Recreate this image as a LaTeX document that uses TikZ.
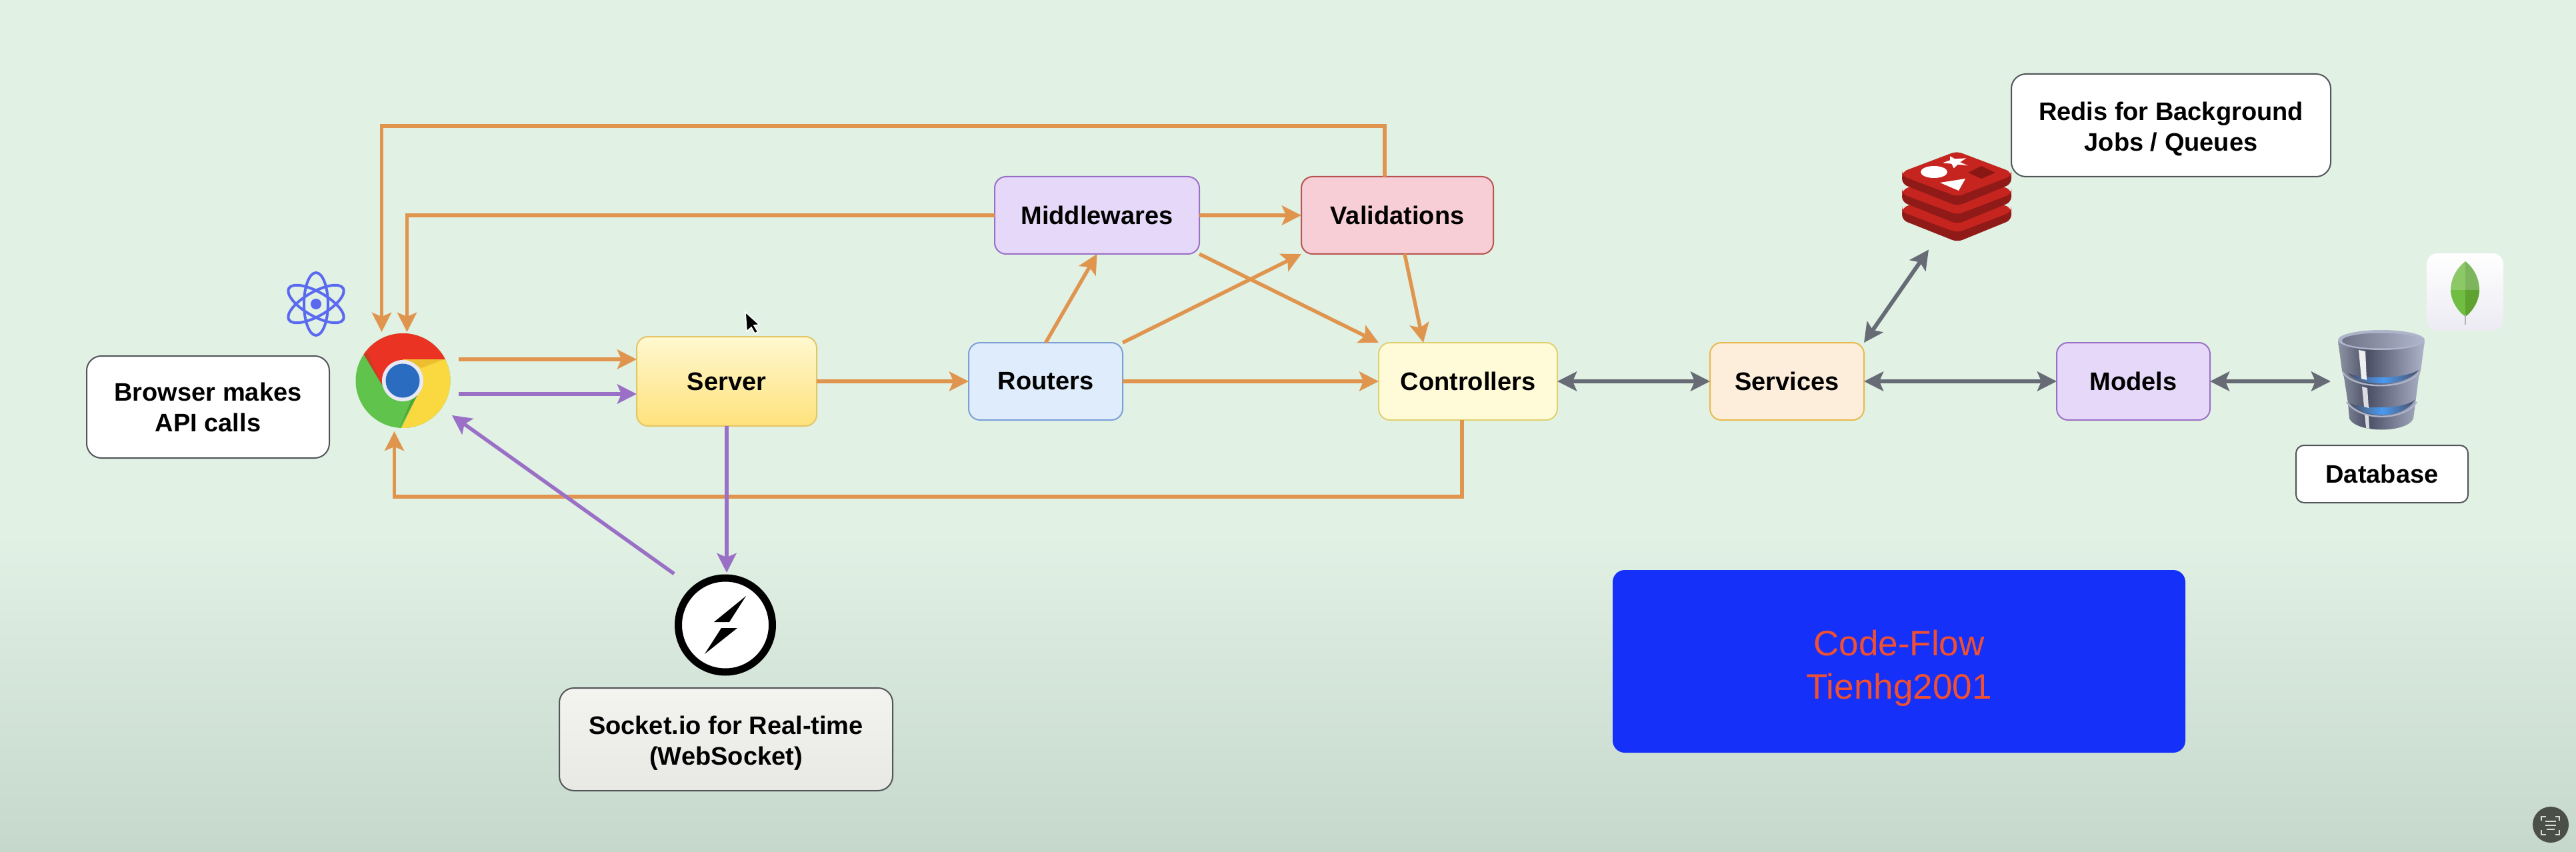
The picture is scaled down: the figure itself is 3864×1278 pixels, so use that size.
\documentclass[tikz,border=0pt]{standalone}
\usepackage{fontspec}
\setmainfont{Liberation Sans}
\usetikzlibrary{arrows.meta,calc}
\definecolor{bgtop}{HTML}{E1F1E4}
\definecolor{bgbot}{HTML}{C6D7CC}
\definecolor{orangeln}{HTML}{E0954F}
\definecolor{purpleln}{HTML}{9A70C6}
\definecolor{grayln}{HTML}{666B75}
\definecolor{dbA}{HTML}{8E93A4}
\definecolor{dbB}{HTML}{6E7386}
\definecolor{dbC}{HTML}{4A4F66}
\definecolor{dbD}{HTML}{AEB4CA}
\definecolor{dbBlue}{HTML}{4A9AF0}
\definecolor{rdRed}{HTML}{C6241F}
\definecolor{rdDark}{HTML}{8F1A17}
\definecolor{rdHole}{HTML}{8A1714}
\definecolor{reactc}{HTML}{5A6AF0}
\definecolor{chGreen}{HTML}{60C34B}
\definecolor{chYellow}{HTML}{FAD840}
\definecolor{chRed}{HTML}{EA3323}
\definecolor{chShY}{HTML}{ECBE30}
\definecolor{chShG}{HTML}{50A538}
\definecolor{chShR}{HTML}{C83C23}
\definecolor{chRing}{HTML}{E9E9F5}
\definecolor{chBlue}{HTML}{2A6CC0}
\definecolor{titleBg}{HTML}{1530F8}
\definecolor{titleFg}{HTML}{F05030}
\definecolor{mgBot}{HTML}{ECEBF3}
\definecolor{lfA}{HTML}{8CC866}
\definecolor{lfB}{HTML}{7DB55C}
\definecolor{lfC}{HTML}{70BD42}
\definecolor{lfD}{HTML}{5FA22F}
\definecolor{btnBg}{HTML}{4A4F48}
\definecolor{btnFg}{HTML}{D8DBD5}
\definecolor{srvT}{HTML}{FFF8D0}
\definecolor{srvB}{HTML}{FFE27C}
\definecolor{srvD}{HTML}{E3C566}
\definecolor{rtF}{HTML}{DFECFB}
\definecolor{rtD}{HTML}{7C9FD8}
\definecolor{mdF}{HTML}{E6D8F8}
\definecolor{vlF}{HTML}{F8CED6}
\definecolor{vlD}{HTML}{B85450}
\definecolor{ctF}{HTML}{FFFBD8}
\definecolor{ctD}{HTML}{E0D070}
\definecolor{svF}{HTML}{FDEEDB}
\definecolor{svD}{HTML}{EAB84D}
\definecolor{skT}{HTML}{F3F3F0}
\definecolor{skB}{HTML}{E8E8E5}
\definecolor{lblD}{HTML}{505558}
\pgfdeclarehorizontalshading{dbshade}{100bp}{color(0bp)=(dbA); color(25bp)=(dbA); color(33bp)=(dbB); color(42bp)=(dbC); color(75bp)=(dbD); color(100bp)=(dbD)}
\tikzset{
  >={Stealth[length=14.5pt,width=14.5pt,inset=3pt]},
  boxtext/.style={font=\fontsize{19}{23}\selectfont\bfseries,align=center,text=black},
  flowbox/.style={boxtext,draw,rectangle,rounded corners=8.5pt,line width=1pt,inner sep=0pt,outer sep=0pt},
  labelbox/.style={boxtext,draw=lblD,fill=white,rectangle,rounded corners=11pt,line width=1pt,inner sep=0pt,outer sep=0pt},
  oline/.style={draw=orangeln,line width=2.75pt},
  pline/.style={draw=purpleln,line width=2.75pt},
  gline/.style={draw=grayln,line width=3pt},
  icon/.style={inner sep=0pt,outer sep=0pt}
}
\begin{document}
\begin{tikzpicture}[x=0.5pt,y=-0.5pt]
\useasboundingbox (0,0) rectangle (3864,1278);
% background
\fill[bgtop] (0,0) rectangle (3864,801);
\shade[top color=bgtop,bottom color=bgbot,draw=none] (0,800) rectangle (3864,1278);

% nodes
\node[labelbox,minimum width=182pt,minimum height=76.5pt] (brow) at (312,610.5) {Browser makes\\API calls};
\node[icon,circle,minimum size=71pt] (chrome) at (604.5,571) {};
\node[flowbox,draw=srvD,top color=srvT,bottom color=srvB,minimum width=135pt,minimum height=67pt] (server) at (1090,572) {Server};
\node[flowbox,draw=rtD,fill=rtF,minimum width=115.5pt,minimum height=58pt] (rout) at (1568.5,572) {Routers};
\node[flowbox,draw=purpleln,fill=mdF,minimum width=153.5pt,minimum height=58pt] (mid) at (1645.5,323) {Middlewares};
\node[flowbox,draw=vlD,fill=vlF,minimum width=144pt,minimum height=58pt] (val) at (2096,323) {Validations};
\node[flowbox,draw=ctD,fill=ctF,minimum width=134pt,minimum height=58pt] (ctrl) at (2202,572) {Controllers};
\node[flowbox,draw=svD,fill=svF,minimum width=115.5pt,minimum height=58pt] (serv) at (2680.5,572) {Services};
\node[flowbox,draw=purpleln,fill=mdF,minimum width=115pt,minimum height=58pt] (models) at (3200,572) {Models};
\node[icon,rectangle,minimum width=66pt,minimum height=76pt] (db) at (3572,572) {};
\node[icon,rectangle,minimum width=82pt,minimum height=69.5pt] (redis) at (2935,295) {};
\node[labelbox,minimum width=239.5pt,minimum height=77pt] (redislbl) at (3256.5,188) {\rule{0pt}{19.5pt}Redis for Background\\Jobs / Queues};
\node[labelbox,rounded corners=6pt,minimum width=129pt,minimum height=43pt] (dblbl) at (3573,711) {Database};
\node[circle,draw=black,fill=white,line width=5.5pt,minimum size=70.5pt,inner sep=0pt,outer sep=0pt] (sock) at (1088,937.5) {};
\node[labelbox,top color=skT,bottom color=skB,minimum width=250pt,minimum height=77pt] (socklbl) at (1089,1109) {\rule{0pt}{19.5pt}Socket.io for Real-time\\(WebSocket)};
\node[rectangle,fill=titleBg,rounded corners=9pt,minimum width=429.5pt,minimum height=137pt,inner sep=0pt,outer sep=0pt,align=center,text=titleFg,font=\fontsize{26.5}{32.5}\selectfont] (title) at (2848.5,992) {\rule{0pt}{29pt}Code-Flow\\Tienhg2001};

% orange connectors
\draw[oline,->] ([xshift=-9.5pt]val.north) -- ++(0,-76) -| ([xshift=-16pt,yshift=1pt]chrome.north);
\draw[oline,->] (mid.west) -| ([xshift=3pt,yshift=1pt]chrome.north);
\draw[oline,->] ([xshift=6pt,yshift=16pt]chrome.east) -- ([yshift=16.5pt]server.west);
\draw[oline,->] (server.east) -- (rout.west);
\draw[oline,->] (rout.north) -- (mid.south);
\draw[oline,->] (rout.north east) -- (val.south west);
\draw[oline,->] (mid.east) -- (val.west);
\draw[oline,->] (mid.south east) -- (ctrl.north west);
\draw[oline,->] ([xshift=5.5pt]val.south) -- ([xshift=-33.5pt]ctrl.north);
\draw[oline,->] (rout.east) -- (ctrl.west);
\draw[oline,->] ([xshift=-4.5pt]ctrl.south) -- ++(0,115) -| ([xshift=-6.5pt,yshift=-2.5pt]chrome.south);
% purple connectors
\draw[pline,->] ([xshift=6pt,yshift=-10pt]chrome.east) -- ([yshift=-9.5pt]server.west);
\draw[pline,->] (server.south) -- ([xshift=1pt,yshift=4pt]sock.north);
\draw[pline,->] ([xshift=-13.5pt,yshift=13.5pt]sock.135) -- ([xshift=7.6pt,yshift=-5.6pt]chrome.-35);
% gray connectors
\draw[gline,<->] (ctrl.east) -- (serv.west);
\draw[gline,<->] (serv.east) -- (models.west);
\draw[gline,<->] (models.east) -- ([xshift=-5pt]db.west);
\draw[gline,<->] (serv.north east) -- ([xshift=-21pt,yshift=-5pt]redis.south);

% react icon
\begin{scope}[line width=2pt]
\draw[reactc] (474,456) ellipse [x radius=47,y radius=18,rotate=90];
\draw[reactc] (474,456) ellipse [x radius=47,y radius=18,rotate=30];
\draw[reactc] (474,456) ellipse [x radius=47,y radius=18,rotate=-30];
\fill[reactc] (474,456) circle (8);
\end{scope}

% chrome icon
\begin{scope}
\clip (604.5,571) circle (71);
\fill[chGreen] (520,490) rectangle (690,650);
\fill[chYellow] (604,539) -- (690,539) -- (690,650) -- (598,650) -- (626,593) -- (604,571) -- cycle;
\fill[chRed] (573,577) -- (543,527) -- (530,480) -- (690,480) -- (690,539) -- (604,539) -- cycle;
\fill[chShY] (610,539) -- (666,539) -- (632,552) -- cycle;
\fill[chShG] (626,593) -- (599,642) -- (618,598) -- cycle;
\fill[chShR] (546,532) -- (573,577) -- (552,530) -- cycle;
\end{scope}
\fill[chRing] (604,571) circle (31);
\fill[chBlue] (604,571) circle (25.5);

% socket bolt
\fill[black] (1119,894) -- (1071,933) -- (1094,933) -- cycle;
\fill[black] (1106,942) -- (1082,942) -- (1057,981) -- cycle;

% redis icon
\foreach \d in {54,27,0}{
  \fill[rdDark,rounded corners=4pt] (2853,{258+\d}) -- (2935,{227+\d}) -- (3017,{258+\d}) -- (3017,{276+\d}) -- (2936,{309+\d}) -- (2853,{276+\d}) -- cycle;
  \fill[rdRed,rounded corners=4pt] (2853,{258+\d}) -- (2935,{227+\d}) -- (3017,{258+\d}) -- (3017,{264+\d}) -- (2936,{295+\d}) -- (2853,{264+\d}) -- cycle;
}
\fill[white] (2925,234.3) -- (2932.3,238.3) -- (2949.3,237.3) -- (2940,243.3) -- (2951.7,248.3) -- (2936.7,246.7) -- (2930.7,252.3) -- (2927.3,245.7) -- (2914,244.3) -- (2925,240.3) -- cycle;
\fill[white] (2901,258) ellipse [x radius=20,y radius=9];
\fill[white] (2910,274) -- (2948,268) -- (2938,286) -- cycle;
\fill[rdHole] (2952,259) -- (2972,249) -- (2993,259) -- (2972,268) -- cycle;

% database icon
\shade[shading=dbshade] (3507,512) -- (3513,556) -- (3516,566) -- (3522,605) -- (3524,628) .. controls (3535,650) and (3610,650) .. (3620,628) -- (3623,605) -- (3628,566) -- (3631,556) -- (3637,512) -- cycle;
\shade[left color=dbC,right color=dbC,middle color=dbBlue] (3522,560) .. controls (3545,569) and (3605,569) .. (3628,555) .. controls (3610,581) and (3540,581) .. (3522,560) -- cycle;
\shade[left color=dbC,right color=dbC,middle color=dbBlue] (3525,605) .. controls (3545,614) and (3605,614) .. (3622,600) .. controls (3605,629) and (3545,629) .. (3525,605) -- cycle;
\draw[draw=dbD,line width=1.2pt] (3514,558) .. controls (3530,585) and (3610,585) .. (3629,558);
\draw[draw=dbD,line width=1.2pt] (3520,603) .. controls (3540,632) and (3605,632) .. (3625,603);
\fill[white,opacity=.9] (3538,525) -- (3548,527) -- (3550,570) -- (3542,568) -- cycle;
\fill[white,opacity=.8] (3543,580) -- (3551,582) -- (3553,612) -- (3546,610) -- cycle;
\fill[white,opacity=.8] (3547,622) -- (3553,624) -- (3554,643) -- (3549,642) -- cycle;
\fill[dbD] (3572,510) ellipse [x radius=65,y radius=15];
\shade[left color=dbB,right color=dbD] (3572,511) ellipse [x radius=59,y radius=11.5];

% mongo icon
\shade[top color=white,bottom color=mgBot,rounded corners=8pt] (3640,380) rectangle (3755,496);
\fill[lfA] (3698,392) .. controls (3685,402) and (3676,418) .. (3676,435) -- (3698,435) -- cycle;
\fill[lfB] (3698,392) .. controls (3711,402) and (3719,418) .. (3719,435) -- (3698,435) -- cycle;
\fill[lfC] (3676,435) .. controls (3676,452) and (3688,468) .. (3698,475) -- (3698,435) -- cycle;
\fill[lfD] (3719,435) .. controls (3719,452) and (3708,468) .. (3698,475) -- (3698,435) -- cycle;
\draw[draw=black!30,line width=1pt] (3698,472) -- (3698,487);

% mouse pointer
\filldraw[fill=black,draw=white,line width=.8pt] (1118,468) -- (1120,497) -- (1127,491) -- (1132,500) -- (1137,498) -- (1131,488) -- (1139,487) -- cycle;

% screen capture button
\fill[btnBg] (3826,1237) circle (27);
\begin{scope}[line width=1pt]
\draw[btnFg] (3812,1231) -- (3812,1225) -- (3819,1225);
\draw[btnFg] (3833,1225) -- (3839,1225) -- (3839,1231);
\draw[btnFg] (3812,1245) -- (3812,1252) -- (3819,1252);
\draw[btnFg] (3833,1252) -- (3839,1252) -- (3839,1245);
\draw[btnFg] (3818,1232) -- (3834,1232);
\draw[btnFg] (3818,1238) -- (3834,1238);
\draw[btnFg] (3820,1244) -- (3832,1244);
\end{scope}
\end{tikzpicture}
\end{document}
